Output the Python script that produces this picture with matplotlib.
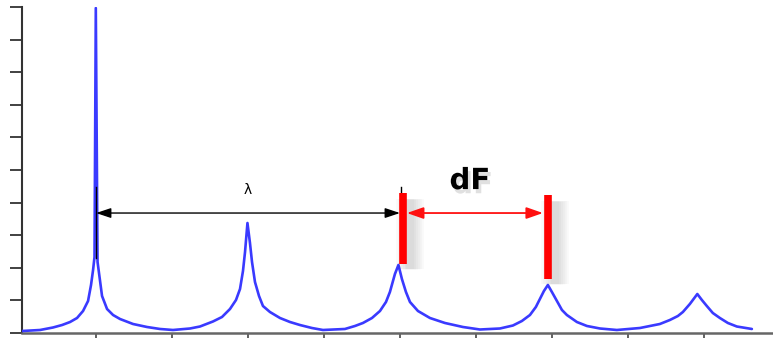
import matplotlib
matplotlib.use("Agg")
import matplotlib.pyplot as plt
import matplotlib.patheffects as pe

# Spectrum curve (x in tick units, y in tick units)
curve_x = [0.026, 0.263, 0.434, 0.553, 0.658, 0.750, 0.829, 0.895, 0.934, 0.961,
           0.980, 0.997, 1.020, 1.053, 1.079, 1.145, 1.224, 1.316, 1.487, 1.671,
           1.842, 2.013, 2.237, 2.368, 2.539, 2.658, 2.763, 2.842, 2.895, 2.934,
           2.961, 2.993, 3.026, 3.053, 3.092, 3.145, 3.197, 3.289, 3.421, 3.553,
           3.684, 3.842, 3.987, 4.276, 4.408, 4.513, 4.632, 4.737, 4.816, 4.868,
           4.934, 4.980, 5.026, 5.079, 5.132, 5.237, 5.395, 5.592, 5.829, 6.053,
           6.316, 6.487, 6.605, 6.711, 6.789, 6.842, 6.895, 6.947, 7.000, 7.066,
           7.132, 7.197, 7.329, 7.461, 7.632, 7.855, 8.158, 8.421, 8.553, 8.658,
           8.724, 8.816, 8.914, 8.974, 9.039, 9.118, 9.211, 9.316, 9.434, 9.632]
curve_y = [0.061, 0.092, 0.169, 0.245, 0.337, 0.460, 0.675, 0.982, 1.472, 1.933,
           2.331, 9.969, 2.178, 1.595, 1.135, 0.736, 0.552, 0.429, 0.276, 0.184,
           0.123, 0.092, 0.138, 0.199, 0.353, 0.491, 0.736, 1.012, 1.350, 1.902,
           2.485, 3.374, 2.761, 2.178, 1.564, 1.135, 0.828, 0.644, 0.460, 0.337,
           0.245, 0.153, 0.092, 0.123, 0.215, 0.307, 0.460, 0.675, 0.951, 1.258,
           1.810, 2.086, 1.656, 1.258, 0.951, 0.675, 0.460, 0.307, 0.184, 0.107,
           0.138, 0.230, 0.368, 0.552, 0.798, 1.043, 1.288, 1.472, 1.258, 0.982,
           0.706, 0.552, 0.337, 0.215, 0.138, 0.092, 0.153, 0.276, 0.399, 0.521,
           0.644, 0.890, 1.196, 1.012, 0.828, 0.613, 0.460, 0.307, 0.199, 0.123]

x_ticks = [1, 2, 3, 4, 5, 6, 7, 8, 9]
y_ticks = [0, 1, 2, 3, 4, 5, 6, 7, 8, 9, 10]

# Annotation values
lambda_start = 1.0
lambda_end = 5.0
arrow_level = 3.68
marker_top = 4.48
left_marker_bottom = 2.30
lambda_label = "λ"
lambda_label_pos = (3.0, 4.39)
red_bar_x = [5.04, 6.947]
red_bar_top = [4.29, 4.23]
red_bar_bottom = [2.12, 1.66]
df_start = 5.092
df_end = 6.882
df_label = "dF"
df_label_pos = (5.92, 4.66)

fig = plt.figure(figsize=(7.73, 3.40), dpi=100)
ax = fig.add_axes([0.0285, 0.0206, 0.9715, 0.9588])

ax.plot(curve_x, curve_y, color="#3a3aff", lw=1.9, solid_joinstyle="round",
        solid_capstyle="round", zorder=3)

# black marker lines
ax.plot([lambda_start, lambda_start], [left_marker_bottom, marker_top], color="black", lw=1.0, zorder=4)
ax.plot([red_bar_x[0] - 0.03, red_bar_x[0] - 0.03], [red_bar_top[0], marker_top], color="black", lw=1.0, zorder=4)

# lambda double arrow
ax.annotate("", xy=(lambda_start, arrow_level), xytext=(lambda_end, arrow_level),
            arrowprops=dict(arrowstyle="<|-|>,head_length=0.9,head_width=0.3",
                            color="black", lw=1.0, shrinkA=0, shrinkB=0), zorder=5)
ax.text(*lambda_label_pos, lambda_label, ha="center", va="center", fontsize=10, color="black")

# red bars with soft shadows
shadow = [pe.SimpleLineShadow(offset=(5, -4), shadow_color="black", alpha=0.025, linewidth=w)
          for w in (20, 17, 14, 11, 8, 6)] + [pe.Normal()]
for bx, bt, bb in zip(red_bar_x, red_bar_top, red_bar_bottom):
    ax.plot([bx, bx], [bb, bt], color="#ff0000", lw=5.5, solid_capstyle="butt",
            path_effects=shadow, zorder=6)

# dF double arrow
ax.annotate("", xy=(df_start, arrow_level), xytext=(df_end, arrow_level),
            arrowprops=dict(arrowstyle="<|-|>,head_length=1.0,head_width=0.35",
                            color="#ff1010", lw=1.3, shrinkA=0, shrinkB=0), zorder=7)
ax.text(*df_label_pos, df_label, ha="center", va="center", fontsize=21, fontweight="bold",
        color="black", zorder=8,
        path_effects=[pe.SimplePatchShadow(offset=(2, -3), shadow_rgbFace="black", alpha=0.12),
                      pe.Normal()])

ax.set_xlim(0.026, 9.91)
ax.set_ylim(0, 10)
ax.set_xticks(x_ticks)
ax.set_yticks(y_ticks)
ax.set_xticklabels([])
ax.set_yticklabels([])
ax.spines["top"].set_visible(False)
ax.spines["right"].set_visible(False)
ax.spines["left"].set_color("#333333")
ax.spines["left"].set_linewidth(1.5)
ax.spines["bottom"].set_color("#666666")
ax.spines["bottom"].set_linewidth(1.8)
ax.tick_params(axis="y", direction="out", length=8.5, width=1.3, color="#333333")
ax.tick_params(axis="x", direction="out", length=3.5, width=1.3, color="#555555")
ax.patch.set_alpha(0)

fig.savefig("out.png", dpi=100)
